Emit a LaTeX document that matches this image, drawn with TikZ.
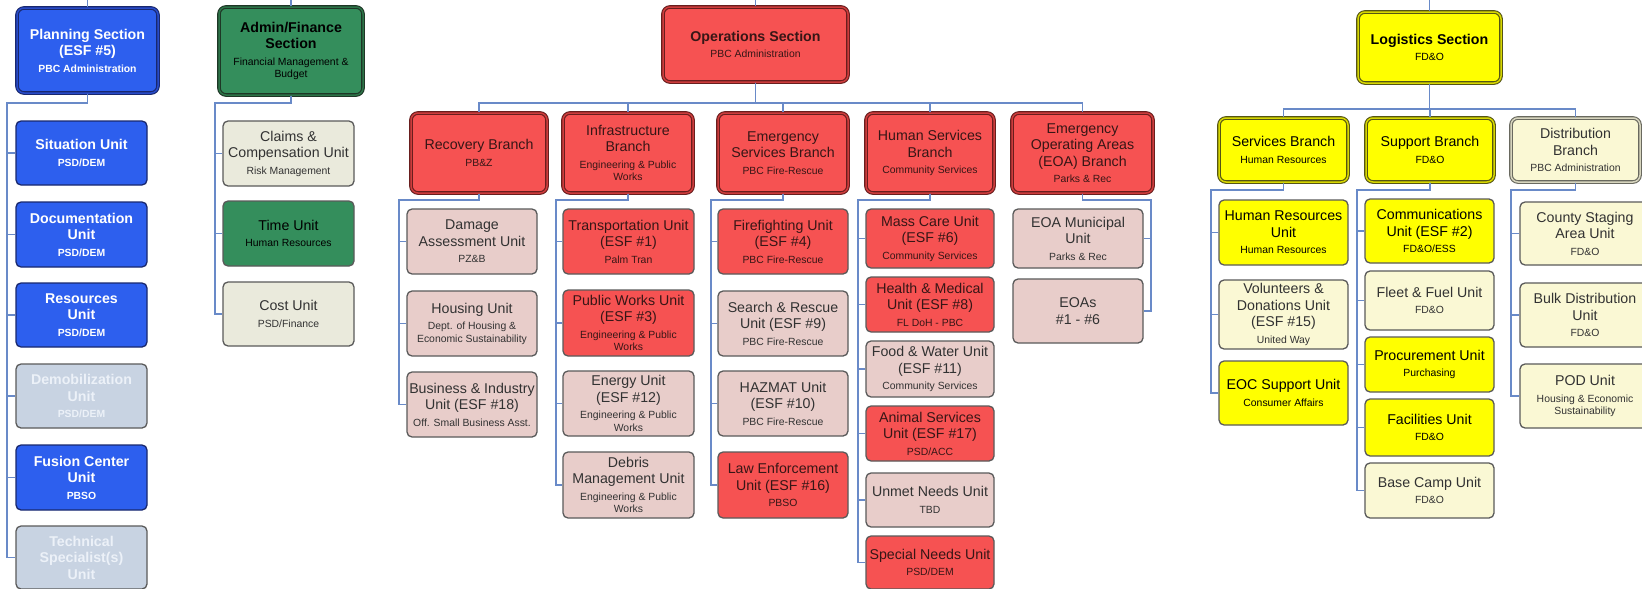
\documentclass[tikz,border=0pt]{standalone}
\usepackage{fontspec}
\setmainfont{Liberation Sans}
\newcommand{\mainf}{\fontsize{14.2}{16.5}\selectfont}
\newcommand{\subf}{\fontsize{10.4}{12.5}\selectfont}
\definecolor{cblue}{RGB}{45,95,238}
\definecolor{bluedark}{RGB}{25,40,110}
\definecolor{bluemid}{RGB}{40,75,200}
\definecolor{cgreyblue}{RGB}{200,211,226}
\definecolor{greytext}{RGB}{236,241,248}
\definecolor{cgreen}{RGB}{52,142,92}
\definecolor{greendark}{RGB}{30,55,38}
\definecolor{greenmid}{RGB}{45,115,72}
\definecolor{cbeige}{RGB}{234,234,220}
\definecolor{cred}{RGB}{246,82,82}
\definecolor{reddark}{RGB}{105,30,30}
\definecolor{redmid}{RGB}{205,60,60}
\definecolor{redtext}{RGB}{55,22,22}
\definecolor{cpink}{RGB}{232,205,202}
\definecolor{cyellow}{RGB}{255,255,0}
\definecolor{yeldark}{RGB}{85,85,20}
\definecolor{yelmid}{RGB}{215,215,0}
\definecolor{clyellow}{RGB}{250,248,212}
\definecolor{lydark}{RGB}{105,105,95}
\definecolor{lymid}{RGB}{215,213,190}
\definecolor{ugray}{RGB}{90,90,90}
\definecolor{utext}{RGB}{50,50,50}
\definecolor{connc}{RGB}{105,138,200}
\newcommand{\bx}[7]{\node[#2, minimum width={(#5-#3)*1pt}, minimum height={(#6-#4)*1pt}] (#1) at ({(#3+#5)/2},{(#4+#6)/2}) {#7};}
\begin{document}
\begin{tikzpicture}[x=1pt,y=-1pt,
  basebox/.style={align=center, inner sep=1pt, font=\mainf},
  unit/.style={basebox, draw=ugray, line width=1.3pt, rounded corners=5pt, text=utext},
  blueunit/.style={unit, fill=cblue, draw=bluedark, text=white, font=\mainf\bfseries},
  greyunit/.style={unit, fill=cgreyblue, text=greytext, font=\mainf\bfseries},
  beigeunit/.style={unit, fill=cbeige},
  greenunit/.style={unit, fill=cgreen, text=black},
  redunit/.style={unit, fill=cred, text=redtext},
  pinkunit/.style={unit, fill=cpink},
  yunit/.style={unit, fill=cyellow, text=black},
  lyunit/.style={unit, fill=clyellow},
  dbl/.style={basebox, rounded corners=7pt, line width=1.1pt, double distance=1.5pt},
  bluesect/.style={dbl, draw=bluedark, double=bluemid, fill=cblue, text=white, font=\mainf\bfseries},
  greensect/.style={dbl, draw=greendark, double=greenmid, fill=cgreen, text=black},
  redsect/.style={dbl, draw=reddark, double=redmid, fill=cred, text=redtext},
  ysect/.style={dbl, draw=yeldark, double=yelmid, fill=cyellow, text=black},
  lysect/.style={dbl, draw=lydark, double=lymid, fill=clyellow, text=utext},
  conn/.style={draw=connc, line width=1.6pt}
]
\useasboundingbox[fill=white] (0,0) rectangle (1642,589);
\coordinate (top) at (0,0);
% ---------------- Planning
\bx{plan}{bluesect}{17}{8}{158}{93}{Planning Section\\(ESF \#5)\\\subf PBC Administration}
\bx{sit}{blueunit}{16}{121}{147}{185}{Situation Unit\\\subf PSD/DEM}
\bx{doc}{blueunit}{16}{202}{147}{267}{Documentation\\Unit\\\subf PSD/DEM}
\bx{res}{blueunit}{16}{283}{147}{347}{Resources\\Unit\\\subf PSD/DEM}
\bx{demob}{greyunit}{16}{364}{147}{428}{Demobilization\\Unit\\\subf PSD/DEM}
\bx{fus}{blueunit}{16}{445}{147}{510}{Fusion Center\\Unit\\\subf PBSO}
\bx{tech}{greyunit}{16}{526}{147}{589}{Technical\\Specialist(s)\\Unit}
% ---------------- Admin
\bx{adm}{greensect}{219}{7}{363}{95}{\textbf{Admin/Finance}\\\textbf{Section}\\\subf Financial Management \&\\[-4pt]\subf Budget}
\bx{claims}{beigeunit}{223}{121}{354}{186}{Claims \&\\Compensation Unit\\\subf Risk Management}
\bx{time}{greenunit}{223}{201}{354}{266}{Time Unit\\\subf Human Resources}
\bx{cost}{beigeunit}{223}{282}{354}{346}{Cost Unit\\\subf PSD/Finance}
% ---------------- Operations
\bx{ops}{redsect}{663}{7}{848}{82}{\textbf{Operations Section}\\\subf PBC Administration}
\bx{rec}{redsect}{411}{113}{547}{193}{Recovery Branch\\\subf PB\&Z}
\bx{inf}{redsect}{563}{113}{693}{193}{Infrastructure\\Branch\\\subf Engineering \& Public\\[-4pt]\subf Works}
\bx{ems}{redsect}{718}{113}{848}{193}{Emergency\\Services Branch\\\subf PBC Fire-Rescue}
\bx{hum}{redsect}{866}{113}{994}{193}{Human Services\\Branch\\\subf Community Services}
\bx{eoa}{redsect}{1012}{113}{1153}{193}{Emergency\\Operating Areas\\(EOA) Branch\\\subf Parks \& Rec}
\bx{dam}{pinkunit}{407}{209}{537}{274}{Damage\\Assessment Unit\\\subf PZ\&B}
\bx{hous}{pinkunit}{407}{291}{537}{356}{Housing Unit\\\subf Dept. of Housing \&\\[-4pt]\subf Economic Sustainability}
\bx{busi}{pinkunit}{407}{372}{537}{437}{Business \& Industry\\Unit (ESF \#18)\\\subf Off. Small Business Asst.}
\bx{trans}{redunit}{563}{209}{694}{274}{Transportation Unit\\(ESF \#1)\\\subf Palm Tran}
\bx{pw}{redunit}{563}{290}{694}{356}{Public Works Unit\\(ESF \#3)\\\subf Engineering \& Public\\[-4pt]\subf Works}
\bx{energy}{pinkunit}{563}{371}{694}{436}{Energy Unit\\(ESF \#12)\\\subf Engineering \& Public\\[-4pt]\subf Works}
\bx{debris}{pinkunit}{563}{452}{694}{518}{Debris\\Management Unit\\\subf Engineering \& Public\\[-4pt]\subf Works}
\bx{fire}{redunit}{718}{209}{848}{274}{Firefighting Unit\\(ESF \#4)\\\subf PBC Fire-Rescue}
\bx{sar}{pinkunit}{718}{291}{848}{356}{Search \& Rescue\\Unit (ESF \#9)\\\subf PBC Fire-Rescue}
\bx{haz}{pinkunit}{718}{371}{848}{436}{HAZMAT Unit\\(ESF \#10)\\\subf PBC Fire-Rescue}
\bx{law}{redunit}{718}{452}{848}{518}{Law Enforcement\\Unit (ESF \#16)\\\subf PBSO}
\bx{mass}{redunit}{866}{209}{994}{268}{Mass Care Unit\\(ESF \#6)\\\subf Community Services}
\bx{health}{redunit}{866}{277}{994}{332}{Health \& Medical\\Unit (ESF \#8)\\\subf FL DoH - PBC}
\bx{food}{pinkunit}{866}{341}{994}{397}{Food \& Water Unit\\(ESF \#11)\\\subf Community Services}
\bx{animal}{redunit}{866}{406}{994}{461}{Animal Services\\Unit (ESF \#17)\\\subf PSD/ACC}
\bx{unmet}{pinkunit}{866}{473}{994}{527}{Unmet Needs Unit\\\subf TBD}
\bx{special}{redunit}{866}{536}{994}{589}{Special Needs Unit\\\subf PSD/DEM}
\bx{eoamun}{pinkunit}{1013}{209}{1143}{268}{EOA Municipal\\Unit\\\subf Parks \& Rec}
\bx{eoas}{pinkunit}{1013}{279}{1143}{343}{EOAs\\\#1 - \#6}
% ---------------- Logistics
\bx{log}{ysect}{1358}{12}{1501}{83}{\textbf{Logistics Section}\\\subf FD\&O}
\bx{serv}{ysect}{1219}{118}{1348}{182}{Services Branch\\\subf Human Resources}
\bx{supp}{ysect}{1366}{118}{1494}{182}{Support Branch\\\subf FD\&O}
\bx{dist}{lysect}{1511}{118}{1640}{182}{Distribution\\Branch\\\subf PBC Administration}
\bx{hr}{yunit}{1219}{200}{1348}{265}{Human Resources\\Unit\\\subf Human Resources}
\bx{vol}{lyunit}{1219}{280}{1348}{349}{Volunteers \&\\Donations Unit\\(ESF \#15)\\\subf United Way}
\bx{eoc}{yunit}{1219}{361}{1348}{425}{EOC Support Unit\\\subf Consumer Affairs}
\bx{comm}{yunit}{1365}{199}{1494}{263}{Communications\\Unit (ESF \#2)\\\subf FD\&O/ESS}
\bx{fleet}{lyunit}{1365}{271}{1494}{330}{Fleet \& Fuel Unit\\\subf FD\&O}
\bx{proc}{yunit}{1365}{337}{1494}{392}{Procurement Unit\\\subf Purchasing}
\bx{fac}{yunit}{1365}{399}{1494}{456}{Facilities Unit\\\subf FD\&O}
\bx{base}{lyunit}{1365}{463}{1494}{518}{Base Camp Unit\\\subf FD\&O}
\bx{county}{lyunit}{1520}{202}{1650}{265}{County Staging\\Area Unit\\\subf FD\&O}
\bx{bulk}{lyunit}{1520}{283}{1650}{347}{Bulk Distribution\\Unit\\\subf FD\&O}
\bx{pod}{lyunit}{1520}{364}{1650}{428}{POD Unit\\\subf Housing \& Economic\\[-4pt]\subf Sustainability}
% ---------------- connectors
\coordinate (pv) at (7,103);
\coordinate (av) at (215,103);
\coordinate (opsbus) at (755,103);
\coordinate (rv) at (399,200);
\coordinate (iv) at (556,200);
\coordinate (ev) at (711,200);
\coordinate (hv) at (858,200);
\coordinate (eov) at (1151,200);
\coordinate (logbus) at (1429,109);
\coordinate (sv) at (1211,190);
\coordinate (suv) at (1357,190);
\coordinate (dv) at (1511,190);
\foreach \s in {plan,adm,ops,log} \draw[conn] (\s.north) -- (\s.north |- top);
\foreach \c in {sit,doc,res,demob,fus,tech} \draw[conn] (plan.south) |- (pv) |- (\c.west);
\foreach \c in {claims,time,cost} \draw[conn] (adm.south) |- (av) |- (\c.west);
\foreach \b in {rec,inf,ems,hum,eoa} \draw[conn] (ops.south) -- (ops.south |- opsbus) -| (\b.north);
\foreach \c in {dam,hous,busi} \draw[conn] (rec.south) |- (rv) |- (\c.west);
\foreach \c in {trans,pw,energy,debris} \draw[conn] (inf.south) |- (iv) |- (\c.west);
\foreach \c in {fire,sar,haz,law} \draw[conn] (ems.south) |- (ev) |- (\c.west);
\foreach \c in {mass,health,food,animal,unmet,special} \draw[conn] (hum.south) |- (hv) |- (\c.west);
\foreach \c in {eoamun,eoas} \draw[conn] (eoa.south) |- (eov) |- (\c.east);
\foreach \b in {serv,supp,dist} \draw[conn] (log.south) -- (log.south |- logbus) -| (\b.north);
\foreach \c in {hr,vol,eoc} \draw[conn] (serv.south) |- (sv) |- (\c.west);
\foreach \c in {comm,fleet,proc,fac,base} \draw[conn] (supp.south) |- (suv) |- (\c.west);
\foreach \c in {county,bulk,pod} \draw[conn] (dist.south) |- (dv) |- (\c.west);
\end{tikzpicture}
\end{document}
